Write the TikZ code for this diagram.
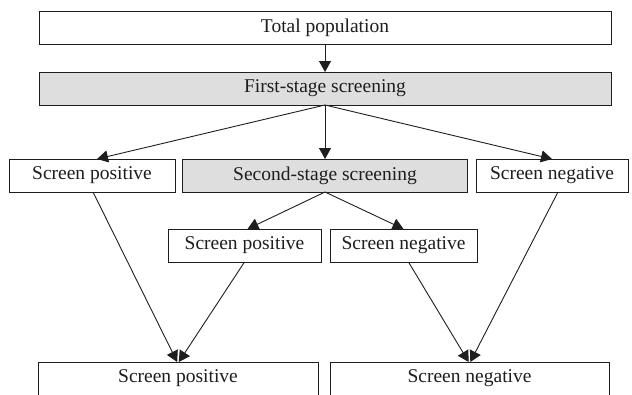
\documentclass[tikz,border=0pt]{standalone}
\usepackage{fontspec}
\setmainfont{Liberation Serif}
\usetikzlibrary{arrows.meta}
\definecolor{boxgray}{HTML}{DEDEDE}
\definecolor{ink}{HTML}{1E1E1E}
\tikzset{
  box/.style={draw=ink, line width=0.9pt, fill=white, inner sep=0pt, outer sep=0pt,
    minimum height=33pt, font=\fontsize{19.5}{23}\selectfont, text=ink},
  shaded/.style={box, fill=boxgray},
  conn/.style={draw=ink, line width=0.9pt, -{Triangle[length=11pt,width=12pt]}},
}
\begin{document}
\begin{tikzpicture}[x=1pt,y=-1pt]
\useasboundingbox (0,0) rectangle (632,394);
\clip (0,0) rectangle (632,394);
\node[box, minimum width=572pt] (tot) at (325,28) {Total population};
\node[shaded, minimum width=572pt] (fst) at (325,88.5) {First-stage screening};
\node[box, minimum width=166pt] (sp2) at (92,175.5) {Screen positive};
\node[shaded, minimum width=285pt] (sst) at (325,175.5) {Second-stage screening};
\node[box, minimum width=152pt] (sn2) at (552,175.5) {Screen negative};
\node[box, minimum width=153pt] (sp3) at (244.5,245.5) {Screen positive};
\node[box, minimum width=147pt] (sn3) at (403.5,245.5) {Screen negative};
\node[box, minimum width=280pt] (sp4) at (178,378.5) {Screen positive};
\node[box, minimum width=279pt] (sn4) at (469.5,378.5) {Screen negative};
\draw[conn] (tot.south) -- (fst.north);
\draw[conn] (fst.south) -- ([xshift=5pt]sp2.north);
\draw[conn] (fst.south) -- (sst.north);
\draw[conn] (fst.south) -- (sn2.north);
\draw[conn] (sst.south) -- ([xshift=3pt]sp3.north);
\draw[conn] (sst.south) -- (sn3.north);
\draw[conn] ([xshift=1pt]sp2.south) -- ([xshift=-0.8pt]sp4.north);
\draw[conn] (sp3.south) -- ([xshift=0.8pt]sp4.north);
\draw[conn] ([xshift=5pt]sn3.south) -- ([xshift=-0.8pt]sn4.north);
\draw[conn] ([xshift=6pt]sn2.south) -- ([xshift=0.8pt]sn4.north);
\end{tikzpicture}
\end{document}
